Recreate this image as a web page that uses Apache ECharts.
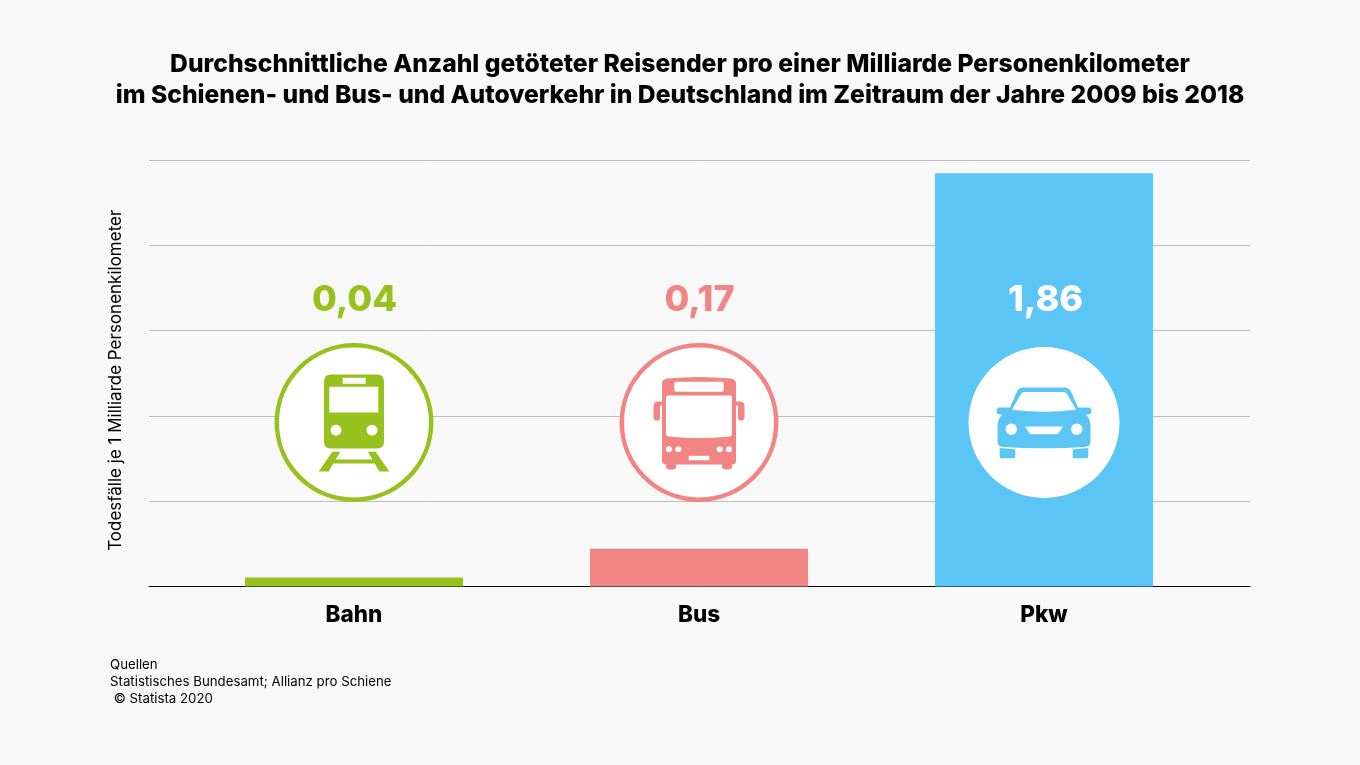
<!DOCTYPE html>
<html>
<head>
<meta charset="utf-8">
<style>
  html, body { margin: 0; background: #f8f8f8; }
  #chart { width: 1360px; height: 765px; }
</style>
<script src="https://cdn.jsdelivr.net/npm/echarts@6/dist/echarts.min.js"></script>
</head>
<body>
<div id="chart"></div>
<script>
const categories = ["Bahn", "Bus", "Pkw"];
const deaths = [0.04, 0.17, 1.86];
const valueLabels = ["0,04", "0,17", "1,86"];
const colors = ["#97c21d", "#f28583", "#5bc5f5"];
const labelColors = ["#97c21d", "#f28583", "#ffffff"];

const FONT = "Inter";

// icons are drawn around the circle centre, holes are painted white on top
const icons = [
  {
    body: [
      "M-23 -48H23Q30 -48 30 -41V19Q30 26 23 26H-23Q-30 26 -30 19V-41Q-30 -48 -23 -48Z",
      "M-21.7 29.3H-13.7L-18.5 37H18.5L13.7 29.3H21.7L35.3 49H25.3L20.8 41H-20.8L-25.3 49H-35.3Z",
    ],
    holes: [
      "M-11.3 -44.7H11.7V-38.7H-11.3Z",
      "M-24.7 -35.7H24.3V-10H-24.7Z",
      "M-23.5 7.7A5.5 5.5 0 1 0 -12.5 7.7A5.5 5.5 0 1 0 -23.5 7.7Z",
      "M12.5 7.7A5.5 5.5 0 1 0 23.5 7.7A5.5 5.5 0 1 0 12.5 7.7Z",
    ],
  },
  {
    body: [
      "M-37 -39Q-37 -43 -32 -44Q0 -47 32 -44Q37 -43 37 -39V38Q37 42 33 42V44Q33 47 30 47H26Q23 47 23 44V42H-23V44Q-23 47 -26 47H-30Q-33 47 -33 44V42Q-37 42 -37 38Z",
      "M-37 -21H-41Q-45.5 -21 -45.5 -16V-5Q-45.5 -2 -42.5 -2H-41Q-39 -2 -39 -5V-17H-37Z",
      "M37 -21H41Q45.5 -21 45.5 -16V-5Q45.5 -2 42.5 -2H41Q39 -2 39 -5V-17H37Z",
    ],
    holes: [
      "M-23 -40.7H23Q24.7 -40.7 24.7 -39V-32.5Q24.7 -30.7 23 -30.7H-23Q-24.7 -30.7 -24.7 -32.5V-39Q-24.7 -40.7 -23 -40.7Z",
      "M-31 -27H31Q33 -27 33 -25V11Q33 14 30 14Q0 17 -30 14Q-33 14 -33 11V-25Q-33 -27 -31 -27Z",
      "M-33 26.7A3 3 0 1 0 -27 26.7A3 3 0 1 0 -33 26.7Z",
      "M-23.7 26.7A3 3 0 1 0 -17.7 26.7A3 3 0 1 0 -23.7 26.7Z",
      "M17.7 26.7A3 3 0 1 0 23.7 26.7A3 3 0 1 0 17.7 26.7Z",
      "M27 26.7A3 3 0 1 0 33 26.7A3 3 0 1 0 27 26.7Z",
      "M-10.3 33.3H10.3V37.7H-10.3Z",
    ],
  },
  {
    body: [
      "M-21 -35H21Q25 -35 27 -31L34 -15H44.5Q47.3 -15 47.3 -11.5Q47.3 -8 44.5 -8H42Q46.5 -3 46.5 3V19Q46.5 24 41 24.5Q0 27 -41 24.5Q-46.5 24 -46.5 19V3Q-46.5 -3 -42 -8H-44.5Q-47.3 -8 -47.3 -11.5Q-47.3 -15 -44.5 -15H-34L-27 -31Q-25 -35 -21 -35Z",
      "M-44.3 25.5Q-36 26.5 -28.7 26.7V34Q-28.7 35.7 -30.5 35.7H-42.5Q-44.3 35.7 -44.3 34Z",
      "M44.3 25.5Q36 26.5 28.7 26.7V34Q28.7 35.7 30.5 35.7H42.5Q44.3 35.7 44.3 34Z",
    ],
    holes: [
      "M-20 -30.5H20Q22 -30.5 23 -28.5L32 -12.7Q0 -9 -32 -12.7L-23 -28.5Q-22 -30.5 -20 -30.5Z",
      "M-38.4 6.7A5.7 5.7 0 1 0 -27 6.7A5.7 5.7 0 1 0 -38.4 6.7Z",
      "M27 6.7A5.7 5.7 0 1 0 38.4 6.7A5.7 5.7 0 1 0 27 6.7Z",
      "M-19 4H19L15 10Q14 11.7 12 11.7H-12Q-14 11.7 -15 10Z",
    ],
  },
];

function renderBadge(params, api) {
  const i = api.value(0);
  const x = api.coord([i, 0])[0];
  const color = colors[i];
  const icon = icons[i];
  const isOnBar = labelColors[i] === "#ffffff";
  const children = [
    {
      type: "circle",
      shape: { cx: 0, cy: 0, r: isOnBar ? 75.5 : 77.2 },
      style: { fill: "#ffffff", stroke: isOnBar ? null : color, lineWidth: 4.5 },
    },
  ];
  icon.body.forEach((d) => {
    children.push({ type: "path", shape: { pathData: d }, style: { fill: color } });
  });
  icon.holes.forEach((d) => {
    children.push({ type: "path", shape: { pathData: d }, style: { fill: "#ffffff" } });
  });
  children.push({
    type: "text",
    x: i === 2 ? 1.5 : 0.5,
    y: -122.5,
    style: {
      text: valueLabels[i],
      fill: labelColors[i],
      font: "800 36px " + FONT,
      align: "center",
      verticalAlign: "middle",
    },
  });
  return { type: "group", x: x, y: 422.5, children: children };
}

const chart = echarts.init(window.document.getElementById("chart"));

chart.setOption({
  backgroundColor: "#f8f8f8",
  animation: false,
  title: [
    {
      text: "Durchschnittliche Anzahl getöteter Reisender pro einer Milliarde Personenkilometer\nim Schienen- und Bus- und Autoverkehr in Deutschland im Zeitraum der Jahre 2009 bis 2018",
      left: 675,
      top: 44,
      textAlign: "center",
      textStyle: { fontFamily: FONT, fontWeight: 800, fontSize: 24.66, lineHeight: 31, color: "#000000" },
    },
    {
      text: "Quellen\nStatistisches Bundesamt; Allianz pro Schiene\n © Statista 2020",
      left: 110,
      top: 657,
      padding: 0,
      textStyle: { fontFamily: FONT, fontWeight: 400, fontSize: 13.25, lineHeight: 17, color: "#000000" },
    },
  ],
  grid: [
    { left: 181.5, width: 1035, top: 160, height: 426.5 },
    { left: 149, width: 1101, top: 160, height: 426.5 },
  ],
  xAxis: [
    {
      type: "category",
      gridIndex: 0,
      data: categories,
      axisLine: { show: false },
      axisTick: { show: false },
      axisLabel: { fontFamily: FONT, fontWeight: 800, fontSize: 22.5, color: "#000000", margin: 17 },
    },
    {
      type: "value",
      gridIndex: 1,
      min: 0,
      max: 1,
      axisLine: { show: true, onZero: false, lineStyle: { color: "#000000", width: 1 } },
      axisTick: { show: false },
      axisLabel: { show: false },
      splitLine: { show: false },
    },
  ],
  yAxis: [
    {
      type: "value",
      gridIndex: 0,
      min: 0,
      max: 1.92,
      interval: 0.384,
      axisLine: { show: false },
      axisTick: { show: false },
      axisLabel: { show: false },
      splitLine: { show: false },
    },
    {
      type: "value",
      gridIndex: 1,
      min: 0,
      max: 1.92,
      interval: 0.384,
      name: "Todesfälle je 1 Milliarde Personenkilometer",
      nameLocation: "middle",
      nameGap: 25,
      nameRotate: 90,
      nameTextStyle: { fontFamily: FONT, fontSize: 17, color: "#000000", padding: [0, 14, 0, 0] },
      axisLine: { show: false },
      axisTick: { show: false },
      axisLabel: { show: false },
      splitLine: { show: true, lineStyle: { color: "#bdbdbd", width: 1 } },
    },
  ],
  series: [
    {
      type: "bar",
      xAxisIndex: 0,
      yAxisIndex: 0,
      barWidth: 218,
      z: 3,
      data: deaths.map((v, i) => ({ value: v, itemStyle: { color: colors[i] } })),
    },
    {
      type: "custom",
      xAxisIndex: 0,
      yAxisIndex: 0,
      z: 4,
      silent: true,
      encode: { x: 0, y: 1 },
      data: deaths.map((v, i) => [i, v]),
      renderItem: renderBadge,
    },
  ],
});
</script>
</body>
</html>
